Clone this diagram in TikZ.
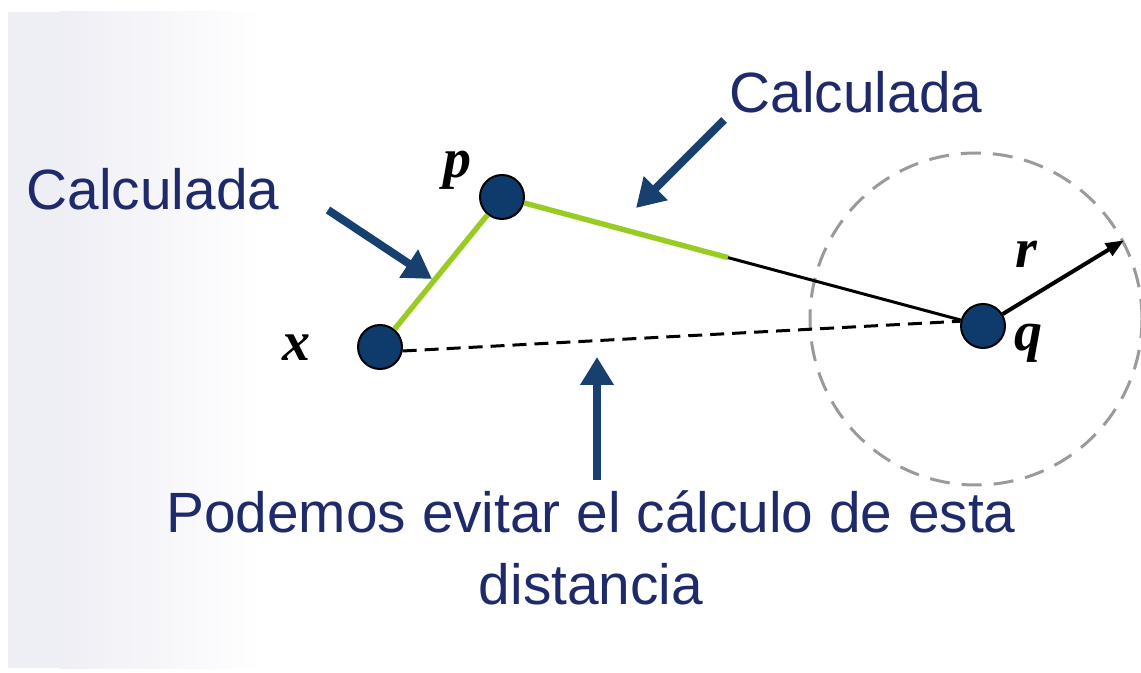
\documentclass[tikz,border=0pt]{standalone}
\usepackage{fontspec}
\setmainfont{Liberation Serif}
\setsansfont{Liberation Sans}
\usepackage{xcolor}
\definecolor{cNavy}{HTML}{1F2A6B}
\definecolor{cArrow}{HTML}{17406F}
\definecolor{cDot}{HTML}{0E3A6C}
\definecolor{cGreen}{HTML}{99CC22}
\definecolor{cCircle}{HTML}{9A9A9A}
\definecolor{cStrip}{HTML}{EEEEF5}
\usepackage{tikz}
\usetikzlibrary{arrows.meta,calc}
\tikzset{
  node-dot/.style={circle,draw=black,line width=1pt,fill=cDot,
    minimum size=22pt,inner sep=0pt},
  node-var/.style={font=\fontsize{28}{30}\selectfont\bfseries\itshape},
  node-note/.style={text=cNavy,align=center,
    font=\sffamily\fontsize{28.4}{36}\selectfont},
  node-zone/.style={circle,draw=cCircle,line width=1.5pt,
    dash pattern=on 10pt off 6pt,minimum size=166pt,inner sep=0pt},
  arrow-note/.style={-{Triangle[length=14pt,width=16pt]},line width=4pt,draw=cArrow},
  arrow-radius/.style={-{Triangle[length=9pt,width=7pt]},line width=2pt,draw=black},
  edge-calc/.style={line width=2.7pt,draw=cGreen},
  edge-plain/.style={line width=1.5pt,draw=black},
  edge-skip/.style={line width=1.5pt,draw=black,dash pattern=on 7pt off 4pt},
}

\begin{document}
\begin{tikzpicture}[x=0.5pt,y=-0.5pt]
  \useasboundingbox (0,0) rectangle (1141,673);
  % franja de fondo
  \fill[cStrip] (8,12) rectangle (60,668);
  \shade[left color=cStrip,right color=white] (60,12) rectangle (262,668);

  % puntos
  \node[node-dot] (x) at (380,347) {};
  \node[node-dot] (p) at (502,197) {};
  \node[node-dot] (q) at (983,326) {};
  \node[node-zone] (zona) at (976,319) {};
  \node[node-var] at (296,348) {x};
  \node[node-var] at (457,170) {p};
  \node[node-var] at (1028,343) {q};
  \node[node-var] at (1026,254) {r};

  % distancias
  \coordinate (m) at ($(p)!0.47!(q)$);
  \draw[edge-calc]  (x) -- (p);
  \draw[edge-calc]  (p) -- (m);
  \draw[edge-plain] (m) -- (q);
  \draw[edge-skip]  (x.-10) -- (q.168);
  \draw[arrow-radius] (q) -- (zona.28);

  % notas
  \node[node-note] (n1) at (153,189) {Calculada};
  \node[node-note] (n2) at (856,92) {Calculada};
  \node[node-note] (n3) at (591,548) {Podemos evitar el cálculo de esta\\distancia};
  \coordinate (a1) at (328,210);  \coordinate (b1) at (432,279);
  \coordinate (a2) at (724,120);  \coordinate (b2) at (636,208);
  \coordinate (a3) at (597,480);  \coordinate (b3) at (597,357);
  \draw[arrow-note] (a1) -- (b1);
  \draw[arrow-note] (a2) -- (b2);
  \draw[arrow-note] (a3) -- (b3);
\end{tikzpicture}
\end{document}
